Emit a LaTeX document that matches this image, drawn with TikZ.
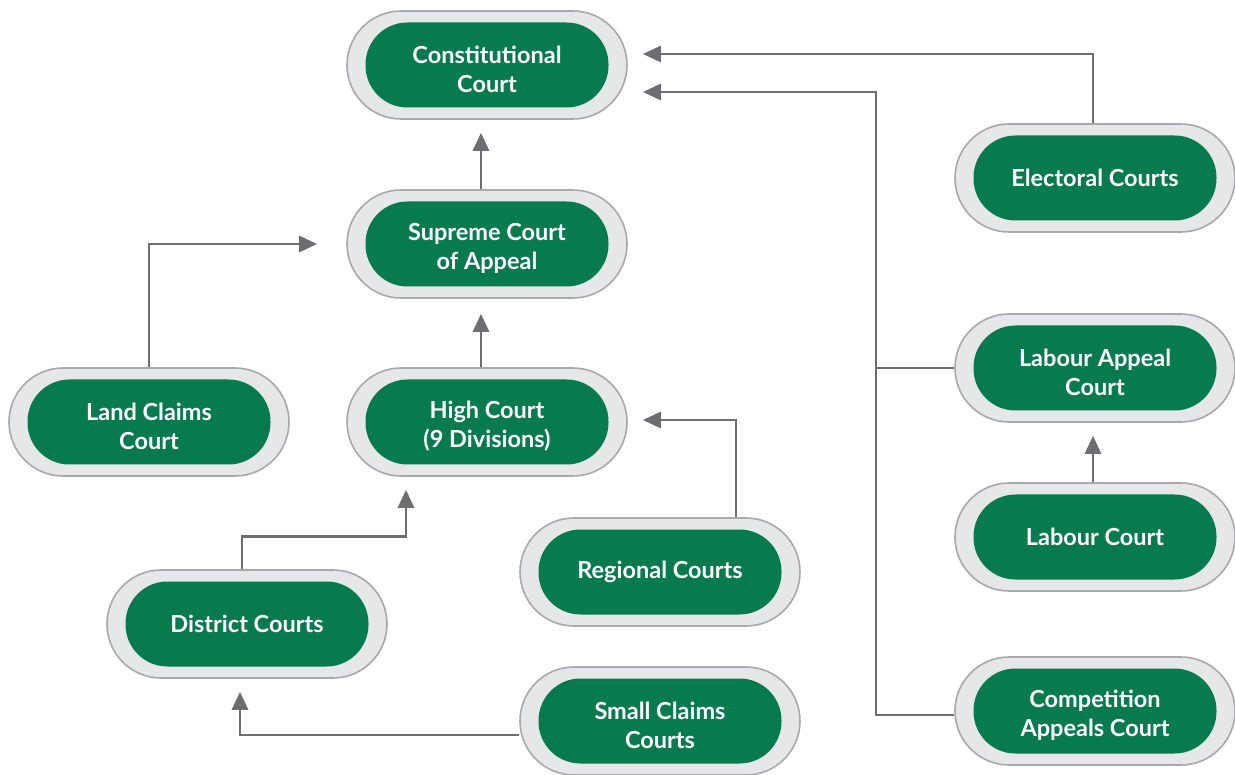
\documentclass[tikz,border=0pt]{standalone}
\usepackage{fontspec}
\setmainfont{Lato}
\usetikzlibrary{arrows.meta}
\definecolor{cgreen}{HTML}{077B4E}
\definecolor{cfill}{HTML}{E6E7E8}
\definecolor{cedge}{HTML}{A7A9AC}
\definecolor{carrow}{HTML}{6D6E71}
\tikzset{
  outer/.style={draw=cedge, line width=1.6pt, fill=cfill, rounded corners=54pt,
    minimum width=280pt, minimum height=108pt, inner sep=0pt},
  inner/.style={fill=cgreen, rounded corners=42pt, minimum width=243pt,
    minimum height=85pt, inner sep=0pt, text=white, align=center,
    font=\fontsize{23.5}{29}\selectfont\bfseries},
  con/.style={draw=carrow, line width=2.8pt},
  arr/.style={con, -{Triangle[length=18pt,width=16pt]}},
}
\newcommand{\court}[4]{%
  \node[outer] (#1) at (#2,#3) {};
  \node[inner] (#1i) at (#2,#3) {#4};
}
\newcommand{\courtt}[4]{%
  \node[outer] (#1) at (#2,#3) {};
  \node[inner] (#1i) at (#2,#3) {};
  \node[inner, fill=none, yshift=-4pt] (#1t) at (#2,#3) {#4};
}
\begin{document}
\begin{tikzpicture}[x=1pt,y=-1pt]
\useasboundingbox (0,0) rectangle (1235,775);
\courtt{con}{487}{65}{Constitutional\\Court}
\courtt{sup}{487}{244}{Supreme Court\\of Appeal}
\courtt{hig}{487}{422}{High Court\\(9 Divisions)}
\courtt{lan}{149}{422}{Land Claims\\Court}
\court{dis}{247}{624}{District Courts}
\court{reg}{660}{572}{Regional Courts}
\courtt{sma}{660}{721}{Small Claims\\Courts}
\court{ele}{1095}{178}{Electoral Courts}
\courtt{lap}{1095}{368}{Labour Appeal\\Court}
\court{lab}{1095}{537}{Labour Court}
\courtt{com}{1095}{711}{Competition\\Appeals Court}
\coordinate (j) at (876,368);
% connectors
\draw[arr] ([xshift=-6pt]sup.north) -- ([xshift=-6pt,yshift=-13pt]con.south);
\draw[arr] ([xshift=-6pt]hig.north) -- ([xshift=-6pt,yshift=-15pt]sup.south);
\draw[arr] (lan.north) |- ([xshift=-29pt]sup.west);
\draw[arr] ([xshift=-5pt]dis.north) -- ++(0,-33) -| ([xshift=-81pt,yshift=-13pt]hig.south);
\draw[arr] ([xshift=76pt]reg.north) |- ([xshift=15pt,yshift=2pt]hig.east);
\draw[arr] ([yshift=-14pt]sma.west) -| ([xshift=-7pt,yshift=-13pt]dis.south);
\draw[arr] ([xshift=-2pt]ele.north) |- ([xshift=15pt,yshift=11pt]con.east);
\draw[arr] (lap.west) -- (j) |- ([xshift=15pt,yshift=-27pt]con.east);
\draw[con] ([yshift=-4pt]com.west) -| (j);
\draw[arr] ([xshift=-2pt]lab.north) -- ([xshift=-2pt,yshift=-13pt]lap.south);
\end{tikzpicture}
\end{document}
